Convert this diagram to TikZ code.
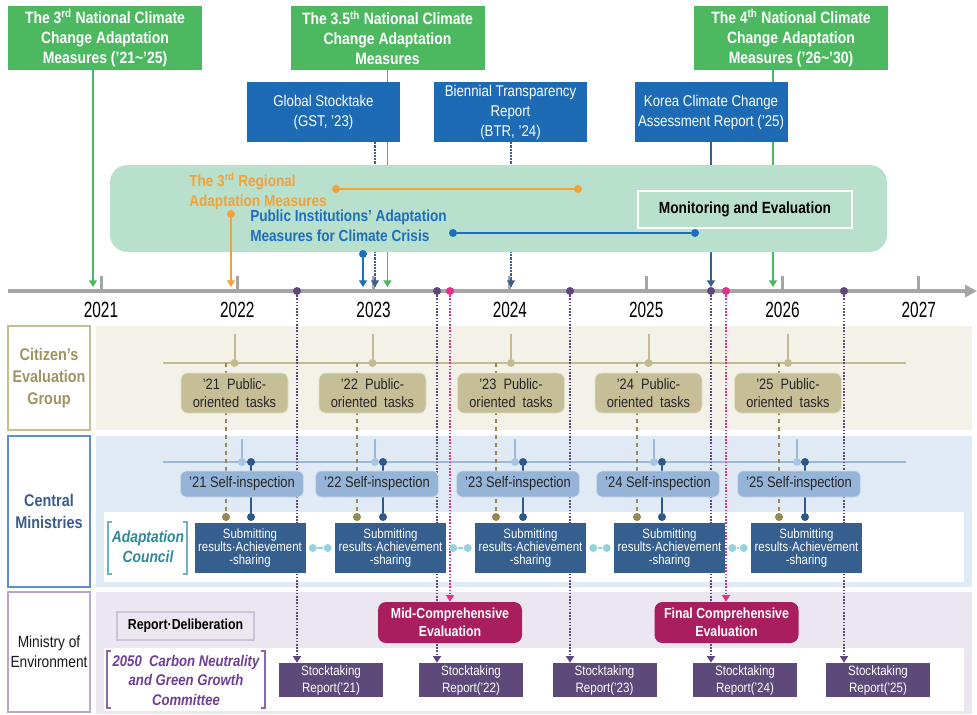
\documentclass[tikz,border=0pt]{standalone}
\usepackage{fontspec}
\setmainfont{Liberation Sans}[FakeStretch=0.85]
\newfontfamily\yearfont{Liberation Sans}[FakeStretch=0.7]
\usetikzlibrary{arrows.meta,positioning}
\newcommand{\px}{0.75pt}
\newcommand{\fsz}[2]{\fontsize{#1}{#2}\selectfont}
\pgfdeclarelayer{under}
\pgfdeclarelayer{fills}
\pgfdeclarelayer{links}
\pgfsetlayers{under,fills,links,main}
\definecolor{plangreen}{RGB}{76,185,96}
\definecolor{intblue}{RGB}{30,107,181}
\definecolor{areagreen}{RGB}{185,224,204}
\definecolor{axisgray}{RGB}{166,166,166}
\definecolor{regorange}{RGB}{242,162,58}
\definecolor{pubblue}{RGB}{28,110,190}
\definecolor{linkblue}{RGB}{60,96,142}
\definecolor{citband}{RGB}{244,242,232}
\definecolor{citedge}{RGB}{200,190,148}
\definecolor{cittext}{RGB}{160,148,98}
\definecolor{taskfill}{RGB}{198,190,150}
\definecolor{tanline}{RGB}{196,186,146}
\definecolor{olive}{RGB}{150,134,80}
\definecolor{minband}{RGB}{223,234,245}
\definecolor{minedge}{RGB}{91,141,208}
\definecolor{mintext}{RGB}{58,92,140}
\definecolor{selffill}{RGB}{150,180,215}
\definecolor{selfline}{RGB}{155,184,218}
\definecolor{selfdot}{RGB}{168,196,228}
\definecolor{darkblue}{RGB}{47,88,138}
\definecolor{subfill}{RGB}{53,95,143}
\definecolor{cyanlink}{RGB}{150,210,222}
\definecolor{councilteal}{RGB}{45,138,155}
\definecolor{councilbr}{RGB}{110,178,194}
\definecolor{envband}{RGB}{236,230,240}
\definecolor{envedge}{RGB}{185,166,207}
\definecolor{cmtpurple}{RGB}{112,62,150}
\definecolor{evalred}{RGB}{168,30,94}
\definecolor{stockfill}{RGB}{94,74,122}
\definecolor{stockline}{RGB}{95,70,125}
\definecolor{evalpink}{RGB}{230,45,140}
\tikzset{
  gbox/.style={fill=plangreen,text=white,align=center,inner sep=0pt,
               minimum width=194*\px,minimum height=64*\px,font=\fsz{12.3}{15}\bfseries},
  bbox/.style={fill=intblue,text=white,align=center,inner sep=0pt,
               minimum width=153*\px,minimum height=60*\px,font=\fsz{11.7}{15}},
  blob/.style={circle,inner sep=0pt,minimum size=6pt,fill=#1},
  upline/.style={line width=0.9pt,-{Triangle[length=5pt,width=6pt]}},
  dotline/.style={linkblue,line width=1.4pt,dash pattern=on 1.6pt off 0.8pt},
  axis/.style={axisgray,line width=3pt,-{Triangle[length=9pt,width=9pt]}},
  yearlbl/.style={font=\yearfont\fsz{16.5}{18},inner sep=0pt},
  rowbox/.style={fill=white,line width=1.5pt,inner sep=0pt,align=center,
                 minimum width=82*\px,font=\fsz{12.7}{16.3}\bfseries},
  taskbox/.style={fill=taskfill,draw=white!50!taskfill,line width=0.6pt,rounded corners=5pt,
                  text=black!85,align=center,inner sep=0pt,minimum width=107*\px,
                  minimum height=40*\px,font=\fsz{11.3}{13.5}},
  selfbox/.style={fill=selffill,draw=white!50!selffill,line width=0.6pt,rounded corners=4pt,
                  text=black!85,inner sep=0pt,minimum width=123*\px,
                  minimum height=26*\px,font=\fsz{11.4}{13}},
  subbox/.style={fill=subfill,text=white,align=center,inner sep=0pt,
                 minimum width=111*\px,minimum height=50*\px,font=\fsz{10.1}{10}},
  stockbox/.style={fill=stockfill,text=white,align=center,inner sep=0pt,
                   minimum width=104*\px,minimum height=34*\px,font=\fsz{10.2}{12.75}},
  evalbox/.style={fill=evalred,text=white,align=center,inner sep=0pt,rounded corners=6pt,
                  minimum width=144*\px,minimum height=41*\px,font=\fsz{10.9}{13.5}\bfseries},
  stockarrow/.style={stockline,line width=1.1pt,dash pattern=on 1.2pt off 1.2pt,
                     -{Triangle[length=5pt,width=6pt]}},
  pinkarrow/.style={evalpink,line width=1.1pt,dash pattern=on 1.2pt off 1.2pt,
                    -{Triangle[length=5pt,width=6pt]}},
  rowline/.style={line width=1.5pt},
}
\begin{document}
\begin{tikzpicture}[x=0.75pt,y=-0.75pt]
\useasboundingbox (0,0) rectangle (977,714);

% national plans and international reports
\node[gbox] (nap3) at (105,38) {The 3\textsuperscript{rd} National Climate\\Change Adaptation\\Measures (’21\textasciitilde’25)};
\node[gbox] (nap35) at (387.5,38) {The 3.5\textsuperscript{th} National Climate\\Change Adaptation\\Measures};
\node[gbox] (nap4) at (791,38) {The 4\textsuperscript{th} National Climate\\Change Adaptation\\Measures (’26\textasciitilde’30)};
\node[bbox] (gst) at (323.5,112) {Global Stocktake\\(GST, ’23)};
\node[bbox] (btr) at (510.5,112) {Biennial Transparency\\Report\\(BTR, ’24)};
\node[bbox] (kcc) at (711,112) {Korea Climate Change\\Assessment Report (’25)};
\coordinate (ttop) at (0,287);
\coordinate (a21) at (93,287);
\coordinate (a23) at (375,287);
\coordinate (a24) at (511,287);
\coordinate (a26) at (773,287);
\begin{pgfonlayer}{under}
\draw[upline,plangreen] (nap3.south -| a21) -- (a21);
\draw[upline,plangreen] (nap35) -- (nap35 |- ttop);
\draw[upline,plangreen] (nap4.south -| a26) -- (a26);
\draw[dotline] (gst.south -| a23) -- (a23);
\draw[dotline] (btr.south -| a24) -- (a24);
\draw[upline,linkblue,line width=1.1pt] (kcc) -- (kcc |- ttop);
\end{pgfonlayer}

% background bands
\begin{pgfonlayer}{fills}
\fill[areagreen,rounded corners=13pt] (110,165) rectangle (887,252);
\fill[citband] (96,326) rectangle (972,430);
\fill[minband] (96,436) rectangle (972,587);
\fill[white] (104,512) rectangle (964,582);
\fill[envband] (96,592) rectangle (972,714);
\fill[white] (104,648) rectangle (964,711);
\end{pgfonlayer}

% regional and public institution measures
\node[draw=white,line width=1.5pt,minimum width=214*\px,minimum height=37*\px,
      font=\fsz{12.1}{14}\bfseries] (mon) at (745,209.5) {Monitoring and Evaluation};
\node[anchor=west,align=left,inner sep=0pt,text=regorange,font=\fsz{12}{15}\bfseries]
  (reg) at (189,191) {The 3\textsuperscript{rd} Regional\\Adaptation Measures};
\node[anchor=west,align=left,inner sep=0pt,text=pubblue,font=\fsz{12}{15}\bfseries]
  (pub) at (250,226) {Public Institutions’ Adaptation\\Measures for Climate Crisis};
\node[blob=regorange] (rs) at (336,189) {};
\node[blob=regorange] (re) at (578,189) {};
\node[blob=regorange] (rd) at (231,214) {};
\draw[regorange,line width=1pt] (rs) -- (re);
\draw[upline,regorange] (rd) -- (rd |- ttop);
\node[blob=pubblue] (ps) at (453,233) {};
\node[blob=pubblue] (pe) at (695,233) {};
\node[blob=pubblue] (pd) at (363,254) {};
\draw[pubblue,line width=1pt] (ps) -- (pe);
\draw[upline,pubblue] (pd) -- (pd |- ttop);

% time axis
\coordinate (t0) at (8,291);
\coordinate (t1) at (977,291);
\draw[axis] (t0) -- (t1);
\foreach \yr [count=\i from 0] in {2021,...,2027}{
  \pgfmathsetmacro{\tx}{101+136.3*\i}
  \draw[axisgray,line width=2.25pt] (\tx,276) -- (\tx,291);
  \node[yearlbl] (y\yr) at (\tx,310) {\yr};
}
\draw[upline,linkblue] ([yshift=7pt]a23) -- (a23);
\draw[upline,linkblue] ([yshift=7pt]a24) -- (a24);
\foreach \n/\x in {1/297,2/437,3/570,4/711,5/844}
  \node[blob=stockline] (td\n) at (\x,291) {};
\node[blob=evalpink] (tp1) at (450,291) {};
\node[blob=evalpink] (tp2) at (726,291) {};

% row headers
\node[rowbox,draw=citedge,text=cittext,minimum height=104*\px] (rcit) at (49,378) {Citizen’s\\Evaluation\\Group};
\node[rowbox,draw=minedge,text=mintext,minimum height=151*\px] (rmin) at (49,511.5) {Central\\Ministries};
\node[rowbox,draw=envedge,text=black!90,font=\fsz{12.1}{15},minimum height=120*\px] (renv) at (49,652) {Ministry of\\Environment};

\node[align=center,inner sep=0pt,text=councilteal,font=\fsz{12.2}{15}\bfseries\itshape]
  (cncl) at (148,547) {Adaptation\\Council};
\draw[councilbr,line width=1pt] (112,522) -- (108,522) -- (108,574) -- (112,574);
\draw[councilbr,line width=1pt] (183,522) -- (187,522) -- (187,574) -- (183,574);
\node[draw=envedge!70,fill=envband,line width=1pt,minimum width=137*\px,minimum height=28*\px,
      font=\fsz{10.9}{13}\bfseries] (rep) at (185.5,626) {Report·Deliberation};
\node[align=center,inner sep=0pt,text=cmtpurple,font=\fsz{11.6}{14.6}\bfseries\itshape]
  (cmt) at (186,680) {2050\ \ Carbon Neutrality\\and Green Growth\\Committee};
\draw[cmtpurple!80,line width=1pt] (111,651) -- (107,651) -- (107,708) -- (111,708);
\draw[cmtpurple!80,line width=1pt] (261,651) -- (265,651) -- (265,708) -- (261,708);

\node[evalbox] (midev) at (450,622.5) {Mid-Comprehensive\\Evaluation};
\node[evalbox] (finev) at (726.5,622.5) {Final Comprehensive\\Evaluation};

% yearly cycle
\coordinate (cl0) at (163,363);
\coordinate (cl1) at (906,363);
\coordinate (ml0) at (163,462);
\coordinate (ml1) at (906,462);
\begin{pgfonlayer}{links}
\draw[tanline,rowline] (cl0) -- (cl1);
\draw[selfline,rowline] (ml0) -- (ml1);
\end{pgfonlayer}
\foreach \yy/\pb/\ol/\si/\lt/\dk/\sb/\st in
  {21/234.5/226/242/242/251/250/331,
   22/372.5/357/377/375/383/390.5/471,
   23/511/496/518/515/523/530.5/604.5,
   24/648.5/637/658/654/662/669.5/745,
   25/788/779/799/797/805/806.5/878}{
  \node[taskbox] (task\yy) at (\pb,393) {’\yy\ \ Public-\\oriented\ \ tasks};
  \node[selfbox] (self\yy) at (\si,484) {’\yy\ Self-inspection};
  \node[subbox] (sub\yy) at (\sb,548) {Submitting\\results·Achievement\\-sharing};
  \node[stockbox] (stock\yy) at (\st,680) {Stocktaking\\Report(’\yy)};
  \coordinate (ctop\yy) at (\pb,334);
  \node[blob=tanline] (cdot\yy) at (\pb,363) {};
  \coordinate (otop\yy) at (\ol,363);
  \node[blob=olive] (odot\yy) at (\ol,517) {};
  \coordinate (ltop\yy) at (\lt,439);
  \node[blob=selfdot] (ldot\yy) at (\lt,462) {};
  \node[blob=darkblue] (kdot\yy) at (\dk,462) {};
  \node[blob=darkblue] (kend\yy) at (\dk,517) {};
  \begin{pgfonlayer}{links}
    \draw[tanline,rowline] (ctop\yy) -- (cdot\yy);
    \draw[olive,dashed,line width=1.2pt] (otop\yy) -- (odot\yy);
    \draw[selfline,rowline] (ltop\yy) -- (ldot\yy);
    \draw[darkblue,rowline] (kdot\yy) -- (kend\yy);
  \end{pgfonlayer}
}
\foreach \a/\b in {21/22,22/23,23/24,24/25}{
  \node[blob=cyanlink] (cla\a) at ([xshift=7*\px]sub\a.east) {};
  \node[blob=cyanlink] (clb\b) at ([xshift=-7*\px]sub\b.west) {};
  \draw[cyanlink,line width=1.2pt] (cla\a) -- (clb\b);
}

% evaluation links
\begin{pgfonlayer}{links}
\foreach \n/\yy in {1/21,2/22,3/23,4/24,5/25}
  \draw[stockarrow] (td\n) -- (td\n |- stock\yy.north);
\draw[pinkarrow] (tp1) -- (midev.north);
\draw[pinkarrow] (tp2) -- (tp2 |- finev.north);
\end{pgfonlayer}
\end{tikzpicture}
\end{document}
